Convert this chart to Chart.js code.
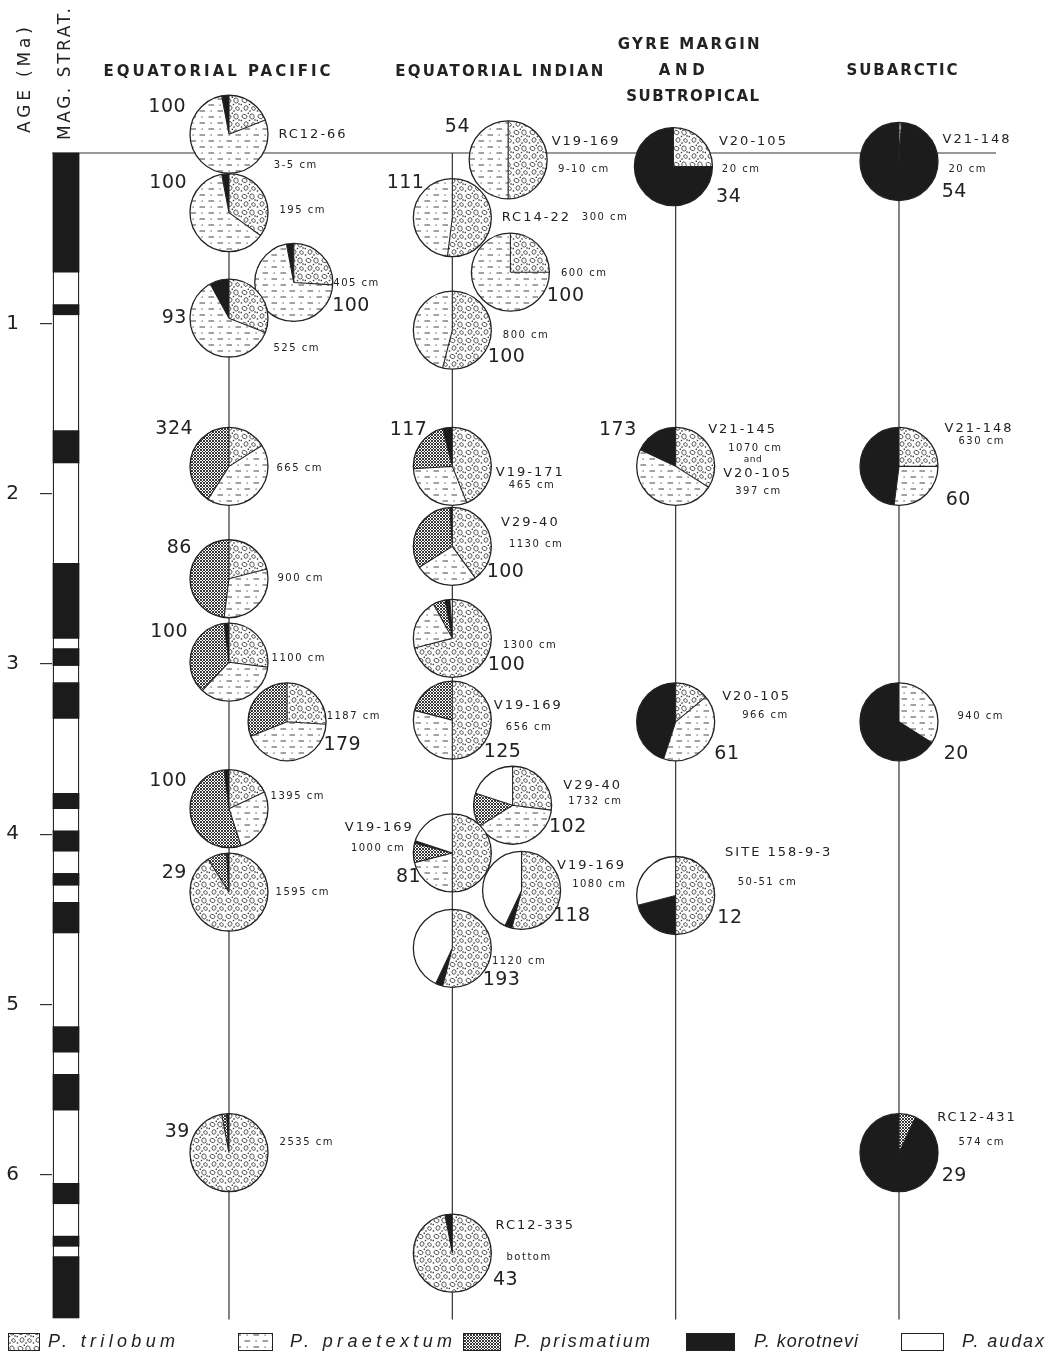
<!DOCTYPE html>
<html><head><meta charset="utf-8">
<script src="https://cdn.jsdelivr.net/npm/chart.js@4.4.1/dist/chart.umd.min.js"></script>
<style>html,body{margin:0;padding:0;background:#fff}canvas{display:block}</style>
</head><body>
<canvas id="c" width="1047" height="1354"></canvas>
<script>
// ================= DATA =================
const speciesNames = ['P. trilobum', 'P. praetextum', 'P. prismatium', 'P. korotnevi', 'P. audax'];
const regionTitles = [['EQUATORIAL PACIFIC'], ['EQUATORIAL INDIAN'], ['GYRE MARGIN', 'AND', 'SUBTROPICAL'], ['SUBARCTIC']];
const ageTicks = [1, 2, 3, 4, 5, 6];
// normal-polarity (black) intervals of the magnetic stratigraphy column, Ma
const magNormal = [[0, 0.70], [0.89, 0.95], [1.63, 1.82], [2.41, 2.85], [2.91, 3.01], [3.11, 3.32],
  [3.76, 3.85], [3.98, 4.10], [4.23, 4.30], [4.40, 4.58], [5.13, 5.28], [5.41, 5.62],
  [6.05, 6.17], [6.36, 6.42], [6.48, 6.84]];
const magBase = 6.84;

// samples: P = Equatorial Pacific, I = Equatorial Indian, G = Gyre margin, S = Subarctic
const sampleRegion = [0,0,0,0,0,0,0,0,0,0,0, 1,1,1,1,1,1,1,1,1,1,1,1,1, 2,2,2,2, 3,3,3,3];
const sampleAge = [-0.11, 0.35, 0.76, 0.97, 1.84, 2.50, 2.99, 3.34, 3.85, 4.34, 5.87,
  0.04, 0.38, 0.70, 1.04, 1.84, 2.31, 2.85, 3.33, 3.83, 4.11, 4.33, 4.67, 6.46,
  0.08, 1.84, 3.34, 4.36,
  0.05, 1.84, 3.34, 5.87];
const sampleCount = [100, 100, 100, 93, 324, 86, 100, 179, 100, 29, 39,
  54, 111, 100, 100, 117, 100, 100, 125, 102, 81, 118, 193, 43,
  34, 173, 61, 12,
  54, 60, 20, 29];
const sampleCore = ['RC12-66', '', '', '', '', '', '', '', '', '', '',
  'V19-169', 'RC14-22', '', '', 'V19-171', 'V29-40', '', 'V19-169', 'V29-40', 'V19-169', 'V19-169', '', 'RC12-335',
  'V20-105', 'V21-145 / V20-105', 'V20-105', 'SITE 158-9-3',
  'V21-148', 'V21-148', '', 'RC12-431'];
const sampleDepth = ['3-5 cm', '195 cm', '405 cm', '525 cm', '665 cm', '900 cm', '1100 cm', '1187 cm', '1395 cm', '1595 cm', '2535 cm',
  '9-10 cm', '300 cm', '600 cm', '800 cm', '465 cm', '1130 cm', '1300 cm', '656 cm', '1732 cm', '1000 cm', '1080 cm', '1120 cm', 'bottom',
  '20 cm', '1070 cm / 397 cm', '966 cm', '50-51 cm',
  '20 cm', '630 cm', '940 cm', '574 cm'];
// percentage of each species in each sample
const trilobum   = [19,35,26,31,16,21,27,26,18,91,97, 50,52,25,54,44,40,71,50,27,50,54,54,97, 25,34,14,50,  1,25, 0, 0];
const praetextum = [78,62,71,61,43,31,35,43,27, 0, 0, 50,48,75,46,30,26,21,29,39,21, 0, 0, 0,  0,48,41, 0,  0,27,34, 0];
const prismatium = [ 0, 0, 0, 0,41,48,36,31,53, 8, 2,  0, 0, 0, 0,22,33, 5,21,14, 8, 0, 0, 0,  0, 0, 0, 0,  0, 0, 0, 7];
const korotnevi  = [ 3, 3, 3, 8, 0, 0, 2, 0, 2, 1, 1,  0, 0, 0, 0, 4, 1, 2, 0, 0, 1, 3, 3, 3, 75,18,45,21, 99,48,66,93];
const audax      = [ 0, 0, 0, 0, 0, 0, 0, 0, 0, 0, 0,  0, 0, 0, 0, 0, 0, 1, 0,20,20,43,43, 0,  0, 0, 0,29,  0, 0, 0, 0];

// ================= LAYOUT (positions / sizes, not data) =================
const Y_PX_PER_MA = 170.3, Y_ZERO_PX = 153, CANVAS_H = 1354;
const Y_MIN = -Y_ZERO_PX / Y_PX_PER_MA, Y_MAX = Y_MIN + CANVAS_H / Y_PX_PER_MA;
const AXIS_W = 52, X_PX_PER_COL = 223.33;
const X_MIN = 1 - (229 - AXIS_W) / X_PX_PER_COL, X_MAX = X_MIN + (1047 - AXIS_W) / X_PX_PER_COL;
const MAG_X = X_MIN + 14 / X_PX_PER_COL;
const H_LINE_END = X_MIN + (996 - AXIS_W) / X_PX_PER_COL;
const LINE_END = 6.85;
const PIE_R = 39;
// sideways displacement of crowded pies (in column widths)
const sampleShift = [0,0,0.29,0,0,0,0,0.26,0,0,0, 0.25,0,0.26,0,0,0,0,0,0.27,0,0.31,0,0, -0.01,0,0,0, 0,0,0,0];
// label offsets from pie centre [kind, dx, dy]
const labelLayout = [
  [['n',-62,-27],['core0',83,0],['depth0',66,31]],
  [['n',-61,-30],['depth0',73,-2]],
  [['depth0',62,1],['n',57,24]],
  [['n',-55,0],['depth0',67,30]],
  [['n',-55,-37],['depth0',70,2]],
  [['n',-50,-31],['depth0',71,0]],
  [['n',-60,-30],['depth0',69,-4]],
  [['depth0',66,-5],['n',55,23]],
  [['n',-61,-28],['depth0',68,-12]],
  [['n',-55,-19],['depth0',73,0]],
  [['n',-52,-21],['depth0',77,-10]],
  [['n',-51,-33],['core0',77,-18],['depth0',75,10]],
  [['n',-47,-35],['core0',83,0],['depth0',152,0]],
  [['depth0',73,1],['n',55,24]],
  [['depth0',73,5],['n',54,27]],
  [['n',-44,-36],['core0',77,6],['depth0',79,19]],
  [['core0',77,-24],['depth0',83,-2],['n',53,26]],
  [['depth0',77,7],['n',54,27]],
  [['core0',75,-14],['depth0',76,7],['n',50,32]],
  [['core0',79,-20],['depth0',82,-4],['n',55,22]],
  [['core0',-74,-25],['depth0',-75,-5],['n',-44,24]],
  [['core0',69,-25],['depth0',77,-6],['n',50,26]],
  [['depth0',66,13],['n',49,32]],
  [['core0',82,-28],['depth0',76,4],['n',53,27]],
  [['core0',79,-25],['depth0',67,3],['n',55,30]],
  [['n',-58,-36],['core0',66,-37],['depth0',79,-18],['and',77,-7],['core1',81,7],['depth1',82,25]],
  [['core0',80,-25],['depth0',89,-6],['n',51,32]],
  [['core0',102,-43],['depth0',91,-13],['n',54,23]],
  [['core0',77,-22],['depth0',68,8],['n',55,31]],
  [['core0',79,-38],['depth0',82,-25],['n',59,34]],
  [['depth0',81,-5],['n',57,32]],
  [['core0',77,-35],['depth0',82,-10],['n',55,23]]
];
const titleLayout = [[[-12, 72, 227]], [[47, 72, 208]], [[13, 45, 142], [6, 71, 46], [17, 97, 133]], [[3, 71, 111]]];
const legendLayout = [[8, 31, 48, 127], [238, 34, 290, 162], [463, 37, 514, 136], [686, 48, 754, 104], [901, 42, 962, 82]];

const FONT = '"DejaVu Sans", sans-serif';
const INK = '#222';

// ================= PATTERNS =================
function tile(w, h, fn) {
  const c = document.createElement('canvas'); c.width = w; c.height = h;
  const g = c.getContext('2d'); g.fillStyle = '#fff'; g.fillRect(0, 0, w, h);
  fn(g); return c;
}
const mainCtx = document.getElementById('c').getContext('2d');
const fills = [
  mainCtx.createPattern(tile(16, 16, g => {
    g.strokeStyle = '#333'; g.lineWidth = 0.85;
    [[4.5,4.5,2.6,2.0,0.4],[12,4.5,2.6,2.1,1.2],[6,12,2.4,1.9,2.0],[13.5,12.5,2.0,1.6,0.8]].forEach(([x,y,a,b,r]) => {
      g.beginPath(); g.ellipse(x, y, a, b, r, 0, 2*Math.PI); g.stroke(); });
    g.fillStyle = '#333';
    [[8.3,1.3],[1.3,8.5],[9.5,8.5],[1.5,15],[10,15],[15,8]].forEach(([x,y]) => g.fillRect(x-0.7, y-0.7, 1.4, 1.4));
  }), 'repeat'),
  mainCtx.createPattern(tile(18, 12, g => {
    g.strokeStyle = '#444'; g.lineWidth = 1;
    g.beginPath(); g.moveTo(1.5, 3); g.lineTo(7, 3); g.moveTo(10.5, 9); g.lineTo(16, 9); g.stroke();
    g.fillStyle = '#555'; g.fillRect(12.5, 2.5, 1.2, 1.2); g.fillRect(3.5, 8.5, 1.2, 1.2);
  }), 'repeat'),
  mainCtx.createPattern(tile(3, 3, g => {
    g.strokeStyle = '#222'; g.lineWidth = 0.9;
    g.beginPath(); g.moveTo(0, 0); g.lineTo(3, 3); g.moveTo(3, 0); g.lineTo(0, 3); g.stroke();
  }), 'repeat'),
  '#1c1c1c',
  '#ffffff'
];

// ================= TEXT HELPERS =================
function spaced(ctx, text, x, y, font, spacing, align) {
  ctx.font = font; ctx.letterSpacing = spacing + 'px';
  ctx.textAlign = align || 'center'; ctx.textBaseline = 'middle'; ctx.fillStyle = INK;
  ctx.fillText(text, x + ((align || 'center') === 'center' ? spacing / 2 : 0), y);
  ctx.letterSpacing = '0px';
}
function fitted(ctx, text, x, y, font, width, align) {
  ctx.font = font; ctx.letterSpacing = '0px';
  const w = ctx.measureText(text).width;
  const s = Math.max(0, (width - w) / Math.max(1, text.length - 1));
  spaced(ctx, text, x, y, font, s, align);
}

// ================= PLUGIN: pies, labels, titles, legend =================
const piePlugin = {
  id: 'pies',
  afterDatasetsDraw(chart) {
    const ctx = chart.ctx;
    const meta = chart.getDatasetMeta(chart.data.datasets.findIndex(d => d.label === 'samples'));
    const series = [trilobum, praetextum, prismatium, korotnevi, audax];
    meta.data.forEach((el, i) => {
      const cx = el.x, cy = el.y, r = PIE_R;
      const vals = series.map(s => s[i]);
      const tot = vals.reduce((a, b) => a + b, 0);
      ctx.save();
      ctx.beginPath(); ctx.arc(cx, cy, r, 0, 2 * Math.PI); ctx.fillStyle = '#fff'; ctx.fill();
      let a = -Math.PI / 2; const bounds = [];
      vals.forEach((v, k) => {
        if (v <= 0) return;
        const b = a + v / tot * 2 * Math.PI;
        ctx.beginPath(); ctx.moveTo(cx, cy); ctx.arc(cx, cy, r, a, b); ctx.closePath();
        ctx.fillStyle = fills[k]; ctx.fill();
        bounds.push(a); a = b;
      });
      if (bounds.length > 1) {
        ctx.strokeStyle = INK; ctx.lineWidth = 1.1; ctx.beginPath();
        bounds.forEach(t => { ctx.moveTo(cx, cy); ctx.lineTo(cx + r * Math.cos(t), cy + r * Math.sin(t)); });
        ctx.stroke();
      }
      ctx.beginPath(); ctx.arc(cx, cy, r, 0, 2 * Math.PI);
      ctx.strokeStyle = INK; ctx.lineWidth = 1.3; ctx.stroke();
      ctx.restore();
      // labels
      const cores = sampleCore[i].split(' / '), depths = sampleDepth[i].split(' / ');
      labelLayout[i].forEach(([kind, dx, dy]) => {
        const x = cx + dx, y = cy + dy;
        if (kind === 'n') spaced(ctx, String(sampleCount[i]), x, y, '19px ' + FONT, 0.5);
        else if (kind.startsWith('core')) spaced(ctx, cores[+kind.slice(4)], x, y, '13px ' + FONT, 2);
        else if (kind.startsWith('depth')) spaced(ctx, depths[+kind.slice(5)], x, y, '10px ' + FONT, 1.5);
        else if (kind === 'and') spaced(ctx, 'and', x, y, '9px ' + FONT, 0.5);
      });
    });
  },
  afterDraw(chart) {
    const ctx = chart.ctx, xs = chart.scales.x;
    // region titles
    regionTitles.forEach((lines, r) => {
      const colPx = xs.getPixelForValue(r + 1);
      lines.forEach((t, k) => {
        const [dx, y, w] = titleLayout[r][k];
        fitted(ctx, t, colPx + dx, y, 'bold 15px ' + FONT, w);
      });
    });
    // axis titles
    [['AGE (Ma)', 26, 80, 106], ['MAG. STRAT.', 66, 74, 132]].forEach(([t, x, y, w]) => {
      ctx.save(); ctx.translate(x, y); ctx.rotate(-Math.PI / 2);
      fitted(ctx, t, 0, 0, '17px ' + FONT, w); ctx.restore();
    });
    // legend
    speciesNames.forEach((name, k) => {
      const [ix, iw, tx, tw] = legendLayout[k];
      ctx.fillStyle = fills[k]; ctx.fillRect(ix, 1333, iw, 17);
      ctx.strokeStyle = INK; ctx.lineWidth = 1; ctx.strokeRect(ix + 0.5, 1333.5, iw, 17);
      fitted(ctx, name, tx, 1342, 'italic 18px "Liberation Sans", sans-serif', tw, 'left');
    });
  }
};

// ================= CHART =================
const lineDs = (label, pts) => ({ type: 'line', label, data: pts, borderColor: '#333', borderWidth: 1.2,
  pointRadius: 0, pointHoverRadius: 0, fill: false, tension: 0, order: 5 });

new Chart(mainCtx, {
  type: 'bar',
  data: {
    datasets: [
      { type: 'scatter', label: 'samples', order: 0, pointRadius: 0, pointHoverRadius: 0,
        data: sampleAge.map((age, i) => ({ x: sampleRegion[i] + 1 + sampleShift[i], y: age })) },
      { type: 'bar', label: 'normal polarity', order: 1, grouped: false, barThickness: 26,
        backgroundColor: '#1b1b1b', borderWidth: 0,
        data: magNormal.map(([a, b]) => ({ x: MAG_X, y: [a, b] })) },
      { type: 'bar', label: 'column', order: 2, grouped: false, barThickness: 26,
        backgroundColor: '#fff', borderColor: '#222', borderWidth: 1.3, borderSkipped: false,
        data: [{ x: MAG_X, y: [0, magBase] }] },
      lineDs('age zero', [{ x: X_MIN, y: 0 }, { x: H_LINE_END, y: 0 }]),
      ...regionTitles.map((t, r) => lineDs('region ' + r, [{ x: r + 1, y: 0 }, { x: r + 1, y: LINE_END }]))
    ]
  },
  options: {
    responsive: false, animation: false, devicePixelRatio: 1,
    layout: { padding: 0, autoPadding: false },
    plugins: { legend: { display: false }, tooltip: { enabled: false } },
    scales: {
      x: { type: 'linear', min: X_MIN, max: X_MAX, display: false, offset: false,
           afterFit: s => { s.paddingLeft = 0; s.paddingRight = 0; } },
      y: {
        type: 'linear', reverse: true, min: Y_MIN, max: Y_MAX, position: 'left', offset: false,
        afterBuildTicks: s => { s.ticks = ageTicks.map(v => ({ value: v })); },
        afterFit: s => { s.width = AXIS_W; s.paddingTop = 0; s.paddingBottom = 0; },
        ticks: { font: { size: 20, family: FONT }, color: INK, padding: 21, callback: v => String(v) },
        grid: { drawOnChartArea: false, drawTicks: true, tickLength: 12, color: '#333', lineWidth: 1.2 },
        border: { display: false }
      }
    }
  },
  plugins: [piePlugin]
});
</script>
</body></html>
